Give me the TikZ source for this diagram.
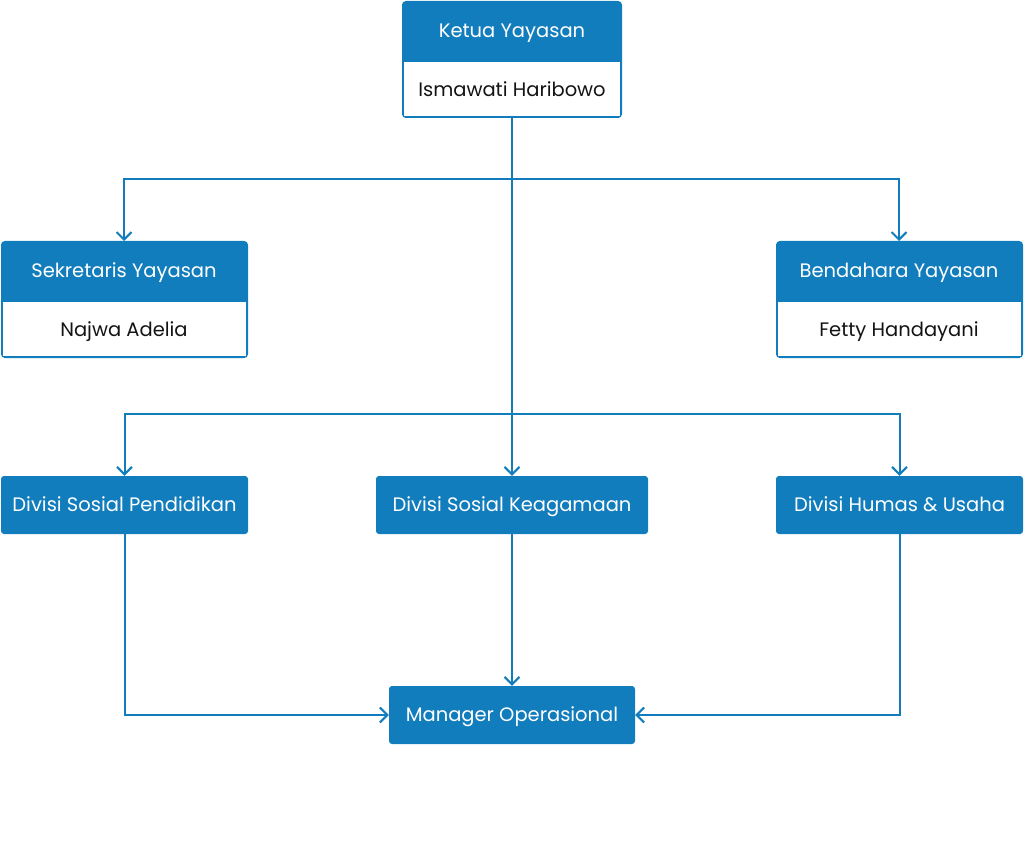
\documentclass[tikz,border=0pt]{standalone}
\usepackage{fontspec}
\setmainfont{Poppins}
\usetikzlibrary{arrows.meta,positioning}
\definecolor{bl}{RGB}{18,125,189}
\definecolor{tx}{RGB}{20,20,20}
\begin{document}
\begin{tikzpicture}[x=1pt,y=-1pt,
  lbl/.style={font=\fontsize{19.5}{22}\selectfont,inner sep=0pt,text height=2.6ex,text depth=0.2ex},
  hdr/.style={lbl,text=white},
  body/.style={lbl,text=tx},
  frame/.style={draw=bl,line width=2pt,rounded corners=3pt},
  solid box/.style={lbl,fill=bl,rounded corners=3pt,text=white},
  conn/.style={draw=bl,line width=2pt,-{Straight Barb[length=7.5pt,width=15pt,line width=2pt]}}]
\useasboundingbox (0,0) rectangle (1024,858);
\newcommand{\twobox}[5]{%
  \fill[bl,rounded corners=3pt] (#1,#2) rectangle (#3,#4+10);
  \fill[bl] (#1,#4-10) rectangle (#3,#4);
  \draw[frame] (#1,#2) rectangle (#3,#5);
}
\twobox{403}{2}{621}{61}{117}
\twobox{2}{242}{247}{301}{357}
\twobox{777}{242}{1022}{301}{357}
\fill[white] (404,62) rectangle (620,116);
\fill[white] (3,302) rectangle (246,356);
\fill[white] (778,302) rectangle (1021,356);
\node[hdr] (k) at (512,31) {Ketua Yayasan};
\node[body] (kn) at (512,90) {Ismawati Haribowo};
\node[hdr] (s) at (124,271) {Sekretaris Yayasan};
\node[body] (sn) at (124,330) {Najwa Adelia};
\node[hdr] (b) at (899,271) {Bendahara Yayasan};
\node[body] (bn) at (899,330) {Fetty Handayani};
\coordinate (kb) at (512,118);
\coordinate (st) at (124,241);
\coordinate (bt) at (899,241);
\coordinate (j1) at (512,179);
\coordinate (j2) at (512,414);
% single boxes
\node[solid box,minimum width=247pt,minimum height=58pt] (d1) at (124.5,505) {Divisi Sosial Pendidikan};
\node[solid box,minimum width=272pt,minimum height=58pt] (d2) at (512,505) {Divisi Sosial Keagamaan};
\node[solid box,minimum width=247pt,minimum height=58pt] (d3) at (899.5,505) {Divisi Humas \& Usaha};
\node[solid box,minimum width=246pt,minimum height=58pt] (m) at (512,715) {Manager Operasional};
% connectors
\draw[conn] (kb) -- (d2.north);
\draw[conn] (kb) |- (j1) -| (st);
\draw[conn] (j1) -| (bt);
\draw[conn] (j2) -| (d1.north);
\draw[conn] (j2) -| (d3.north);
\draw[conn] (d2.south) -- (m.north);
\draw[conn] (d1.south) |- (m.west);
\draw[conn] (d3.south) |- (m.east);
\end{tikzpicture}
\end{document}
